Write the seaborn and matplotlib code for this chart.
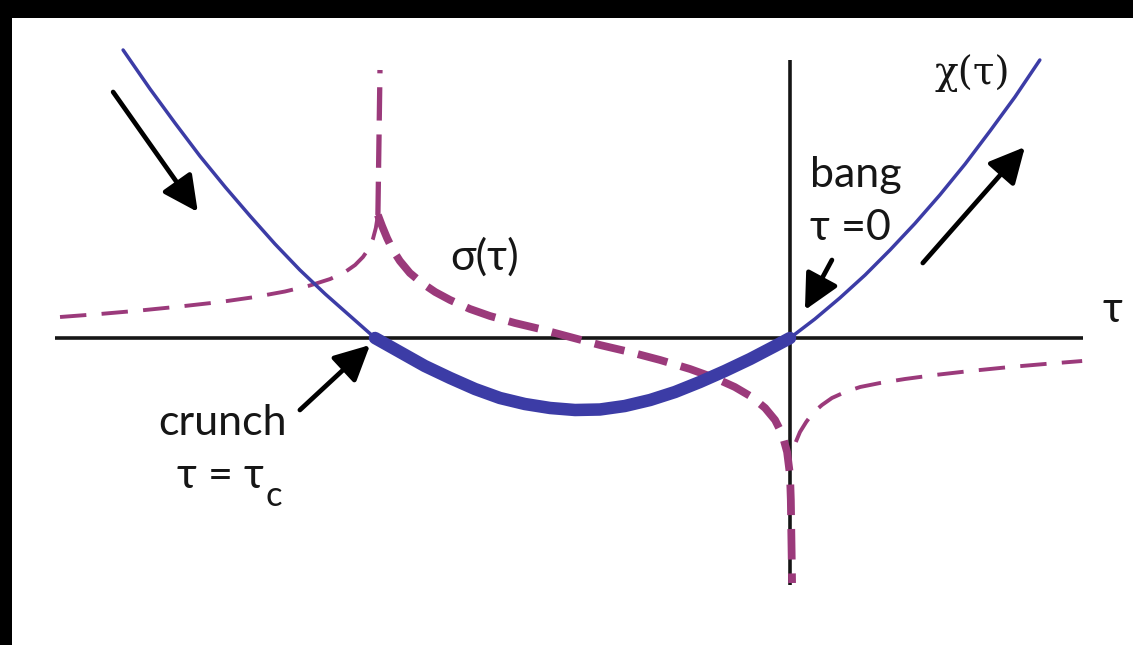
import matplotlib
matplotlib.use("Agg")
import matplotlib.pyplot as plt
from matplotlib.patches import Rectangle
import seaborn as sns

sns.set_theme(style="white")
plt.rcParams["font.family"] = ["Lato", "DejaVu Sans"]
plt.rcParams["lines.scale_dashes"] = False

BLUE = "#3c3ca6"
PURPLE = "#9b3a7b"
INK = "#161616"

# chi(tau): incoming branch, the crunch-to-bang arc, outgoing branch
chi_in_tau = [-1.607, -1.542, -1.482, -1.422, -1.361, -1.301, -1.241,
              -1.181, -1.120, -1.060, -1.0]
chi_in_val = [2.88, 2.49, 2.15, 1.82, 1.51, 1.22, 0.94, 0.68, 0.44, 0.22, 0.0]

chi_arc_tau = [-1.0, -0.940, -0.880, -0.819, -0.759, -0.699, -0.639, -0.578, -0.518,
               -0.458, -0.398, -0.337, -0.277, -0.217, -0.157, -0.096, -0.036, 0.0]
chi_arc_val = [0.0, -0.14, -0.28, -0.40, -0.51, -0.60, -0.66, -0.70, -0.72,
               -0.715, -0.68, -0.62, -0.54, -0.44, -0.33, -0.21, -0.08, 0.0]

chi_out_tau = [0.0, 0.060, 0.120, 0.181, 0.241, 0.301, 0.361, 0.422, 0.482, 0.542, 0.602]
chi_out_val = [0.0, 0.19, 0.40, 0.63, 0.88, 1.145, 1.43, 1.74, 2.07, 2.41, 2.78]

# sigma(tau): left branch, spike at the crunch, middle branch, right branch
sig_left_tau = [-1.759, -1.663, -1.566, -1.470, -1.373, -1.289, -1.217, -1.157,
                -1.108, -1.072, -1.048, -1.029, -1.014, -1.005, -0.998, -0.993]
sig_left_val = [0.21, 0.24, 0.275, 0.315, 0.36, 0.41, 0.465, 0.525,
                0.59, 0.66, 0.73, 0.81, 0.90, 0.99, 1.10, 1.23]

sig_spike_tau = [-0.993, -0.988]
sig_spike_val = [1.23, 2.68]

sig_mid_tau = [-0.993, -0.983, -0.971, -0.957, -0.940, -0.916, -0.887, -0.855, -0.819,
               -0.771, -0.723, -0.663, -0.602, -0.530, -0.458, -0.386, -0.313, -0.241,
               -0.181, -0.133, -0.092, -0.060, -0.036, -0.019, -0.007, 0.0, 0.002, 0.005]
sig_mid_val = [1.23, 1.12, 1.00, 0.88, 0.77, 0.65, 0.55, 0.46, 0.38,
               0.29, 0.22, 0.15, 0.09, 0.01, -0.07, -0.14, -0.22, -0.31,
               -0.40, -0.49, -0.59, -0.70, -0.82, -0.96, -1.14, -1.37, -1.62, -2.45]

sig_right_tau = [0.014, 0.024, 0.039, 0.055, 0.077, 0.101, 0.133, 0.169,
                 0.217, 0.277, 0.349, 0.434, 0.530, 0.614, 0.704]
sig_right_val = [-1.04, -0.94, -0.84, -0.75, -0.67, -0.60, -0.54, -0.49,
                 -0.45, -0.41, -0.37, -0.33, -0.29, -0.26, -0.23]

# axis extents
tau_axis = [-1.771, 0.706]
val_axis = [-2.47, 2.78]

fig = plt.figure(figsize=(11.33, 6.45), dpi=100)
fig.patch.set_facecolor("white")
ax = fig.add_axes([0, 0, 1, 1])
ax.set_xlim(-790 / 415, 343 / 415)
ax.set_ylim(-3.07, 3.38)
ax.axis("off")

# coordinate axes
ax.plot(tau_axis, [0, 0], color=INK, lw=2.6, solid_capstyle="butt", zorder=2)
ax.plot([0, 0], val_axis, color=INK, lw=2.6, solid_capstyle="butt", zorder=2)

# sigma (dashed)
thin_dash = (0, (19, 11))
thick_dash = (0, (22, 10))
sns.lineplot(x=sig_left_tau, y=sig_left_val, sort=False, estimator=None, ax=ax,
             color=PURPLE, lw=2.8, linestyle=thin_dash, zorder=3)
sns.lineplot(x=sig_spike_tau, y=sig_spike_val, sort=False, estimator=None, ax=ax,
             color=PURPLE, lw=3.8, linestyle=(0, (24, 10)), zorder=3)
sns.lineplot(x=sig_mid_tau, y=sig_mid_val, sort=False, estimator=None, ax=ax,
             color=PURPLE, lw=5.6, linestyle=thick_dash, zorder=3)
sns.lineplot(x=sig_right_tau, y=sig_right_val, sort=False, estimator=None, ax=ax,
             color=PURPLE, lw=2.8, linestyle=thin_dash, zorder=3)

# chi (solid)
sns.lineplot(x=chi_in_tau, y=chi_in_val, sort=False, estimator=None, ax=ax,
             color=BLUE, lw=2.5, zorder=4)
sns.lineplot(x=chi_arc_tau, y=chi_arc_val, sort=False, estimator=None, ax=ax,
             color=BLUE, lw=9.0, solid_capstyle="round", solid_joinstyle="round", zorder=4)
sns.lineplot(x=chi_out_tau, y=chi_out_val, sort=False, estimator=None, ax=ax,
             color=BLUE, lw=2.5, zorder=4)

# arrows
arrow = dict(arrowstyle="-|>,head_length=0.6,head_width=0.3", lw=3.4, color="black",
             mutation_scale=36, shrinkA=0, shrinkB=0)
ax.annotate("", xy=(-1.427, 1.26), xytext=(-1.631, 2.46), arrowprops=arrow, zorder=5)
ax.annotate("", xy=(-1.012, -0.07), xytext=(-1.181, -0.72), arrowprops=arrow, zorder=5)
ax.annotate("", xy=(0.036, 0.28), xytext=(0.101, 0.78), arrowprops=arrow, zorder=5)
ax.annotate("", xy=(0.566, 1.91), xytext=(0.320, 0.75), arrowprops=arrow, zorder=5)

# labels
fs = 31
ax.text(0.439, 2.65, "χ(τ)", fontsize=28, color=INK, ha="center", va="center",
        family=["DejaVu Serif"])
ax.text(-0.735, 0.81, "σ(τ)", fontsize=fs, color=INK, ha="center", va="center")
ax.text(0.048, 1.51, "bang", fontsize=fs, color=INK, ha="left", va="baseline")
ax.text(0.048, 0.98, "τ =0", fontsize=fs, color=INK, ha="left", va="baseline")
ax.text(-1.523, -0.97, "crunch", fontsize=fs, color=INK, ha="left", va="baseline")
tc = ax.text(-1.477, -1.50, "τ = τ", fontsize=fs, color=INK, ha="left", va="baseline")
ax.annotate("c", xy=(1, 0), xycoords=tc, xytext=(1, -8), textcoords="offset points",
            fontsize=fs * 0.8, color=INK, ha="left", va="baseline")
ax.text(0.776, 0.28, "τ", fontsize=fs, color=INK, ha="center", va="center")

# dark frame along the top and left edges
fig.add_artist(Rectangle((0, 1 - 18 / 645), 1, 18 / 645, transform=fig.transFigure,
                         facecolor="black", edgecolor="none", zorder=10))
fig.add_artist(Rectangle((0, 0), 12 / 1133, 1, transform=fig.transFigure,
                         facecolor="black", edgecolor="none", zorder=10))

fig.savefig("out.png", dpi=100, facecolor="white")
